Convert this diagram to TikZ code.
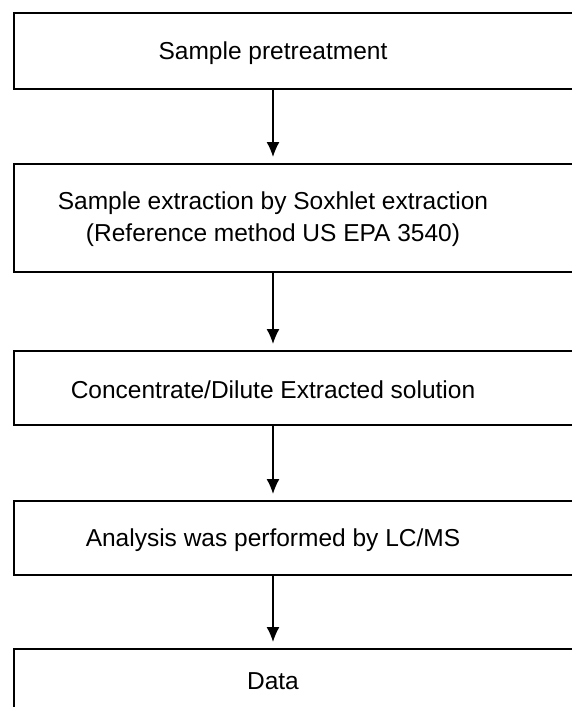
\documentclass[tikz,border=0pt]{standalone}
\usepackage{fontspec}
\setmainfont{Liberation Sans}
\usetikzlibrary{arrows.meta,positioning}

\tikzset{
  stepbox/.style={draw, line width=1.7pt, minimum width=600pt, anchor=north west, inner sep=0pt},
  steptext/.style={align=center, font=\fontsize{24.5}{32}\selectfont},
  flow/.style={line width=1.3pt, -{Latex[length=15pt,width=13pt]}, shorten >=6pt}
}

\begin{document}
\begin{tikzpicture}[x=1pt, y=-1pt]
\useasboundingbox (0,0) rectangle (572,707);
\clip (0,0) rectangle (572,707);
% boxes
\node[stepbox, minimum height=76pt] (b1) at (13,12) {};
\node[stepbox, minimum height=108pt] (b2) at (13,163) {};
\node[stepbox, minimum height=74pt] (b3) at (13,350) {};
\node[stepbox, minimum height=74pt] (b4) at (13,500) {};
\node[stepbox, minimum height=72pt] (b5) at (13,648) {};
% texts
\node[steptext] (t1) at (273,53) {Sample pretreatment};
\node[steptext] (t2) at (273,219) {Sample extraction by Soxhlet extraction\\(Reference method US EPA 3540)};
\node[steptext] (t3) at (273,390) {Concentrate/Dilute Extracted solution};
\node[steptext] (t4) at (273,540) {Analysis was performed by LC/MS};
\node[steptext] (t5) at (273,681) {Data};
% arrows
\draw[flow] (b1.south -| t1) -- (b2.north -| t1);
\draw[flow] (b2.south -| t1) -- (b3.north -| t1);
\draw[flow] (b3.south -| t1) -- (b4.north -| t1);
\draw[flow] (b4.south -| t1) -- (b5.north -| t1);
\end{tikzpicture}
\end{document}
